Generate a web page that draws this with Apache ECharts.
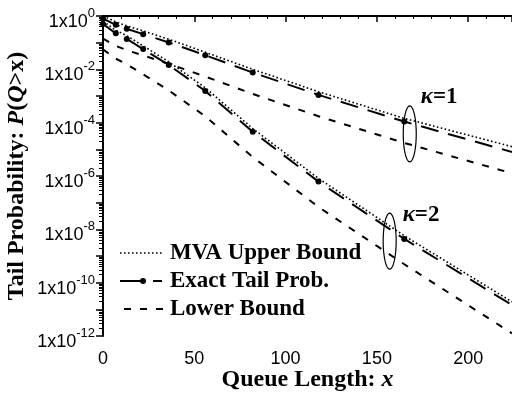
<!DOCTYPE html>
<html>
<head>
<meta charset="utf-8">
<script src="https://cdn.jsdelivr.net/npm/echarts@6/dist/echarts.min.js"></script>
<style>html,body{margin:0;padding:0;background:#fff}#c{width:512px;height:393px}</style>
</head>
<body>
<div id="c"></div>
<script>
// Queue length x (sample points)
const xs = [0, 7, 13, 22, 36, 56, 82, 118, 165, 224];
// kappa = 1
const k1Upper = [1, 0.603, 0.427, 0.275, 0.135, 0.0437, 0.0100, 1.45e-3, 1.45e-4, 1.26e-5];
const k1Exact = [0.794, 0.468, 0.331, 0.209, 0.102, 0.0339, 7.59e-3, 1.10e-3, 1.10e-4, 7.94e-6];
const k1Lower = [0.141, 0.0759, 0.0525, 0.0331, 0.0162, 5.37e-3, 1.20e-3, 1.74e-4, 1.74e-5, 1.26e-6];
// kappa = 2
const k2Upper = [0.631, 0.295, 0.182, 0.0759, 0.0191, 2.04e-3, 6.03e-5, 8.13e-7, 5.75e-9, 1.91e-11];
const k2Exact = [0.501, 0.224, 0.138, 0.0575, 0.0145, 1.55e-3, 4.57e-5, 6.17e-7, 4.37e-9, 1.45e-11];
const k2Lower = [0.0562, 0.0251, 0.0155, 6.46e-3, 1.62e-3, 1.74e-4, 5.13e-6, 6.92e-8, 4.90e-10, 1.26e-12];
const xTicks = [0, 50, 100, 150, 200];
const yExpLabels = [0, -2, -4, -6, -8, -10, -12];
const names = ['MVA Upper Bound', 'Exact Tail Prob.', 'Lower Bound'];
// annotation anchors (data coordinates)
const k1Mark = {x: 168, y: 3.8e-5, label: '1'};
const k2Mark = {x: 157, y: 3.6e-9, label: '2'};

const SERIF = '"Liberation Serif","Times New Roman",serif';
const SANS = '"Liberation Sans",Arial,sans-serif';

const minorExp = [];
for (let n = -12; n < 0; n++) for (let k = 2; k <= 9; k++) minorExp.push(Math.log10(k * Math.pow(10, n)));

function pts(arr) { return xs.map((x, i) => [x, arr[i]]); }
function exactPts(arr) {
  return xs.map((x, i) => i === xs.length - 1 ? {value: [x, arr[i]], symbol: 'none'} : [x, arr[i]]);
}
const upperStyle = {color: '#000', width: 1.6, type: [1.6, 2.4]};
const exactStyle = {color: '#000', width: 2, type: [18, 10]};
const lowerStyle = {color: '#000', width: 2, type: [7, 9]};

function line(name, data, ls, withSym) {
  return {
    type: 'line', name: name, data: data, xAxisIndex: 0, yAxisIndex: 0,
    showSymbol: !!withSym, symbol: withSym ? 'circle' : 'none', symbolSize: 6,
    itemStyle: {color: '#000'}, lineStyle: ls, animation: false, silent: true, z: 3
  };
}
const titleRich = {
  b: {fontFamily: SERIF, fontWeight: 'bold', fontSize: 24, color: '#000'},
  i: {fontFamily: SERIF, fontWeight: 'bold', fontStyle: 'italic', fontSize: 24, color: '#000'}
};

const chart = echarts.init(document.getElementById('c'), null, {renderer: 'canvas'});
chart.setOption({
  animation: false,
  grid: {left: 103, top: 16, right: 0, bottom: 57, containLabel: false, outerBoundsMode: 'none'},
  xAxis: [{
    type: 'value', min: 0, max: 224, interval: 50,
    name: '{b|Queue Length: }{i|x}', nameLocation: 'middle', nameGap: 32, nameMoveOverlap: false,
    nameTextStyle: {rich: titleRich},
    axisLine: {show: true, lineStyle: {color: '#000', width: 2}},
    axisTick: {show: true, inside: false, length: 6, lineStyle: {color: '#000', width: 1.5}},
    minorTick: {show: true, splitNumber: 5, length: 3, lineStyle: {color: '#000', width: 1}},
    splitLine: {show: false},
    axisLabel: {margin: 14, fontFamily: SANS, fontSize: 18, color: '#000',
      formatter: v => xTicks.indexOf(v) >= 0 ? String(v) : ''}
  }, {
    type: 'value', position: 'top', min: 0, max: 224,
    axisLine: {show: true, lineStyle: {color: '#000', width: 2}},
    axisTick: {show: false}, axisLabel: {show: false}, splitLine: {show: false}
  }],
  yAxis: [{
    type: 'log', logBase: 10, min: 1e-12, max: 1,
    axisLine: {show: true, lineStyle: {color: '#000', width: 2}},
    axisTick: {show: false}, axisLabel: {show: false}, splitLine: {show: false}
  }, {
    type: 'value', min: -12, max: 0, interval: 1, position: 'left',
    name: '{b|Tail Probability: }{i|P}{b|(}{i|Q}{b|>x)}', nameLocation: 'middle', nameRotate: 90, nameGap: 74,
    nameMoveOverlap: false,
    nameTextStyle: {rich: titleRich},
    axisLine: {show: false},
    axisTick: {show: true, inside: false, length: 7, lineStyle: {color: '#000', width: 1.5}},
    splitLine: {show: false},
    axisLabel: {
      margin: 8, color: '#000', padding: [6, 0, 0, 0],
      formatter: function (v) {
        if (yExpLabels.indexOf(v) < 0) return '';
        return '{a|1x10}{s|' + v + '}';
      },
      rich: {
        a: {fontFamily: SANS, fontSize: 18, color: '#000', verticalAlign: 'bottom', lineHeight: 24},
        s: {fontFamily: SANS, fontSize: 13, color: '#000', verticalAlign: 'top', lineHeight: 24}
      }
    }
  }, {
    type: 'value', min: -12, max: 0, position: 'left',
    axisLine: {show: false}, axisLabel: {show: false}, splitLine: {show: false},
    axisTick: {show: true, inside: false, length: 4, customValues: minorExp, lineStyle: {color: '#000', width: 1}}
  }],
  series: [
    line(names[0], pts(k1Upper), upperStyle, false),
    line(names[1], exactPts(k1Exact), exactStyle, true),
    line(names[2], pts(k1Lower), lowerStyle, false),
    line(names[0], pts(k2Upper), upperStyle, false),
    line(names[1], exactPts(k2Exact), exactStyle, true),
    line(names[2], pts(k2Lower), lowerStyle, false)
  ]
});

function ellipsePts(cx, cy, rx, ry) {
  const p = [];
  for (let i = 0; i < 48; i++) {
    const t = i / 48 * Math.PI * 2;
    p.push([cx + rx * Math.cos(t), cy + ry * Math.sin(t)]);
  }
  return p;
}
function annot(m, dx, dy) {
  const c = chart.convertToPixel({xAxisIndex: 0, yAxisIndex: 0}, [m.x, m.y]);
  return [
    {type: 'polygon', shape: {points: ellipsePts(c[0], c[1], 6.5, 28)}, style: {fill: 'none', stroke: '#000', lineWidth: 1.2}, z: 10, silent: true},
    {type: 'text', x: c[0] + dx, y: c[1] + dy, z: 10, silent: true,
      style: {text: '{k|κ}{b|=' + m.label + '}', verticalAlign: 'middle', align: 'left',
        rich: {k: {fontFamily: SERIF, fontStyle: 'italic', fontWeight: 'bold', fontSize: 23, fill: '#000'},
               b: {fontFamily: SERIF, fontWeight: 'bold', fontSize: 23, fill: '#000'}}}}
  ];
}
// hand-drawn legend (sample strokes mimic the series styles)
function legendRow(i, y) {
  const els = [];
  if (i === 0) {
    els.push({type: 'line', shape: {x1: 120, y1: y, x2: 163, y2: y}, style: {stroke: '#000', lineWidth: 1.6, lineDash: [1.6, 2.4]}});
  } else if (i === 1) {
    els.push({type: 'line', shape: {x1: 120, y1: y, x2: 143, y2: y}, style: {stroke: '#000', lineWidth: 2}});
    els.push({type: 'circle', shape: {cx: 143, cy: y, r: 3}, style: {fill: '#000'}});
    els.push({type: 'line', shape: {x1: 153, y1: y, x2: 162, y2: y}, style: {stroke: '#000', lineWidth: 2}});
  } else {
    els.push({type: 'line', shape: {x1: 124, y1: y, x2: 163, y2: y}, style: {stroke: '#000', lineWidth: 2, lineDash: [7, 9]}});
  }
  els.push({type: 'text', x: 170, y: y, style: {text: names[i], fontFamily: SERIF, fontWeight: 'bold', fontSize: 23, fill: '#000', verticalAlign: 'middle', align: 'left'}});
  els.forEach(e => { e.z = 10; e.silent = true; });
  return els;
}
const legendEls = [].concat(legendRow(0, 253), legendRow(1, 281), legendRow(2, 309));
chart.setOption({graphic: {elements: annot(k1Mark, 11, -37).concat(annot(k2Mark, 13, -26), legendEls)}});
</script>
</body>
</html>
